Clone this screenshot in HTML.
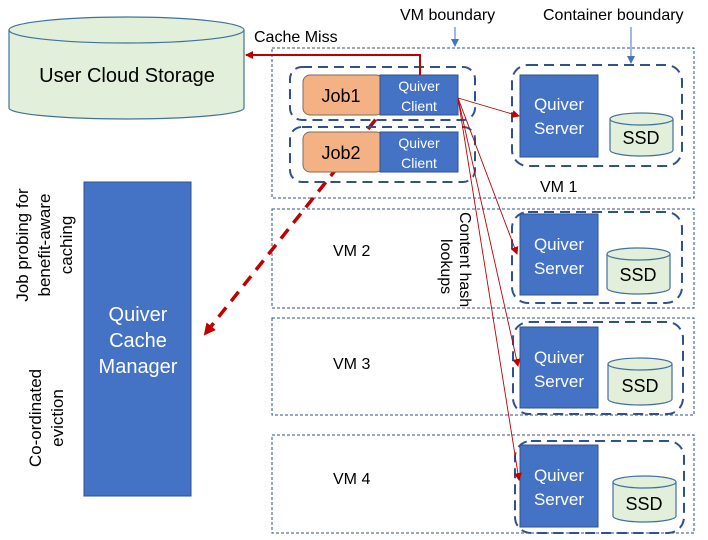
<!DOCTYPE html>
<html><head><style>body{margin:0;background:#fff}svg{display:block}text{font-family:"Liberation Sans",sans-serif}</style></head><body>
<svg width="708" height="540" viewBox="0 0 708 540" xmlns="http://www.w3.org/2000/svg">
<defs>
<marker id="ah" markerWidth="8" markerHeight="8" refX="7" refY="4" orient="auto" markerUnits="userSpaceOnUse"><path d="M0,0 L8,4 L0,8 z" fill="#C00000"/></marker>
<marker id="ahb" markerWidth="12" markerHeight="12" refX="10" refY="6" orient="auto" markerUnits="userSpaceOnUse"><path d="M0,0 L12,6 L0,12 z" fill="#C00000"/></marker>
<marker id="ab" markerWidth="8" markerHeight="8" refX="7" refY="4" orient="auto" markerUnits="userSpaceOnUse"><path d="M0,0 L8,4 L0,8 z" fill="#4472C4"/></marker>
</defs>
<!-- Cloud storage -->
<path d="M9,30 L9,108 A117.5,11 0 0 0 244,108 L244,30" fill="#E2EFDA" stroke="#41719C" stroke-width="1.2"/>
<ellipse cx="126.5" cy="30" rx="117.5" ry="13" fill="#E2EFDA" stroke="#41719C" stroke-width="1.2"/>
<text x="127" y="82" font-size="20" text-anchor="middle" fill="#000">User Cloud Storage</text>
<!-- Cache manager -->
<rect x="84" y="182" width="107" height="314" fill="#4472C4" stroke="#2F528F"/>
<g font-size="20" fill="#fff" text-anchor="middle"><text x="138" y="321">Quiver</text><text x="138" y="347">Cache</text><text x="138" y="373">Manager</text></g>
<g font-size="17" fill="#000" text-anchor="middle">
<text transform="translate(28,245) rotate(-90)">Job probing for</text>
<text transform="translate(50,245) rotate(-90)">benefit-aware</text>
<text transform="translate(72,245) rotate(-90)">caching</text>
<text transform="translate(41,418) rotate(-90)">Co-ordinated</text>
<text transform="translate(63,418) rotate(-90)">eviction</text>
</g>
<!-- top labels -->
<g font-size="16" fill="#000"><text x="400" y="20">VM boundary</text><text x="543" y="20">Container boundary</text><text x="254" y="42">Cache Miss</text></g>
<line x1="455" y1="27" x2="455" y2="46" stroke="#4472C4" marker-end="url(#ab)"/>
<line x1="631" y1="27" x2="631" y2="63" stroke="#4472C4" marker-end="url(#ab)"/>
<!-- VM boxes -->
<g fill="none" stroke="#2F528F" stroke-width="1" stroke-dasharray="3,2">
<rect x="272" y="48" width="422" height="150"/>
<rect x="272" y="209" width="422" height="99"/>
<rect x="272" y="318" width="422" height="97"/>
<rect x="272" y="435" width="422" height="98"/>
</g>
<!-- dashed red line (behind boxes) -->
<line x1="388" y1="104" x2="205" y2="334" stroke="#C00000" stroke-width="3.5" stroke-dasharray="12,8" marker-end="url(#ahb)"/>
<!-- dashed containers -->
<g fill="none" stroke="#2F528F" stroke-width="2" stroke-dasharray="10,6">
<rect x="290" y="67" width="185" height="53" rx="12"/>
<rect x="290" y="127" width="185" height="55" rx="12"/>
<rect x="512" y="65" width="170" height="101" rx="16"/>
<rect x="512" y="212" width="170" height="91" rx="16"/>
<rect x="513" y="322" width="170" height="92" rx="16"/>
<rect x="515" y="441" width="169" height="92" rx="16"/>
</g>
<!-- jobs/clients -->
<rect x="303" y="75" width="80" height="40" rx="7" fill="#F4B183" stroke="#7F6A5A"/>
<rect x="380" y="75" width="78" height="40" fill="#4472C4" stroke="#2F528F"/>
<rect x="303" y="132" width="80" height="40" rx="7" fill="#F4B183" stroke="#7F6A5A"/>
<rect x="380" y="132" width="78" height="40" fill="#4472C4" stroke="#2F528F"/>
<g font-size="18" fill="#000" text-anchor="middle"><text x="341" y="102">Job1</text><text x="341" y="159">Job2</text></g>
<g font-size="14" fill="#fff" text-anchor="middle"><text x="419" y="91">Quiver</text><text x="419" y="111">Client</text><text x="419" y="148">Quiver</text><text x="419" y="168">Client</text></g>
<!-- servers -->
<g fill="#4472C4" stroke="#2F528F">
<rect x="520" y="75" width="78" height="82"/>
<rect x="520" y="214" width="78" height="81"/>
<rect x="520" y="327" width="78" height="81"/>
<rect x="520" y="445" width="78" height="82"/>
</g>
<g font-size="17" fill="#fff" text-anchor="middle">
<text x="559" y="110">Quiver</text><text x="559" y="134">Server</text>
<text x="559" y="250">Quiver</text><text x="559" y="274">Server</text>
<text x="559" y="363">Quiver</text><text x="559" y="387">Server</text>
<text x="559" y="481">Quiver</text><text x="559" y="505">Server</text>
</g>
<!-- SSDs -->
<g fill="#E2EFDA" stroke="#41719C" stroke-width="1.2">
<path d="M610,119 L610,150 A31.5,6 0 0 0 673,150 L673,119"/><ellipse cx="641.5" cy="119" rx="31.5" ry="6"/>
<path d="M607,254 L607,288 A31.5,6 0 0 0 670,288 L670,254"/><ellipse cx="638.5" cy="254" rx="31.5" ry="6"/>
<path d="M608,364 L608,399 A32,6 0 0 0 672,399 L672,364"/><ellipse cx="640" cy="364" rx="32" ry="6"/>
<path d="M613,482 L613,516 A31.5,6 0 0 0 676,516 L676,482"/><ellipse cx="644.5" cy="482" rx="31.5" ry="6"/>
</g>
<g font-size="18" fill="#000" text-anchor="middle">
<text x="641" y="144">SSD</text><text x="638" y="281">SSD</text><text x="640" y="392">SSD</text><text x="644" y="510">SSD</text>
</g>
<!-- VM labels -->
<g font-size="16" fill="#000"><text x="540" y="192">VM 1</text><text x="333" y="256">VM 2</text><text x="333" y="369">VM 3</text><text x="333" y="484">VM 4</text></g>
<!-- content hash label -->
<g font-size="16" fill="#000">
<text transform="translate(460,212) rotate(90)">Content hash</text>
<text transform="translate(441,239) rotate(90)">lookups</text>
</g>
<!-- arrows -->
<polyline points="420,75 420,55 246,55" fill="none" stroke="#C00000" stroke-width="2" marker-end="url(#ah)"/>
<g stroke="#C00000" stroke-width="0.9" fill="none">
<line x1="458" y1="98" x2="519" y2="116" marker-end="url(#ah)"/>
<line x1="458" y1="98" x2="517" y2="254" marker-end="url(#ah)"/>
<line x1="458" y1="98" x2="518" y2="366" marker-end="url(#ah)"/>
<line x1="458" y1="98" x2="519" y2="480" marker-end="url(#ah)"/>
</g>
</svg>
</body></html>
